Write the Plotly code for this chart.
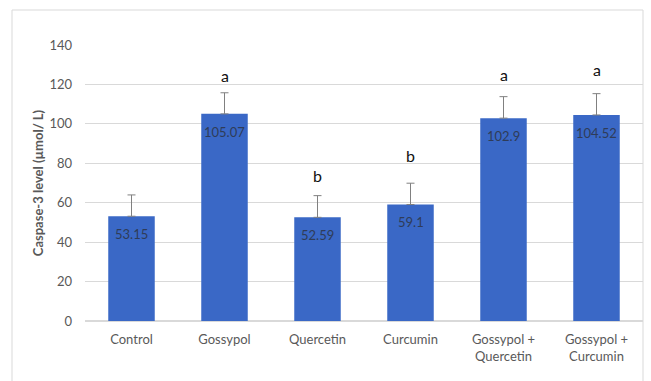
import plotly.graph_objects as go

# Caspase-3 levels per treatment group
groups = ["Control", "Gossypol", "Quercetin", "Curcumin",
          "Gossypol +<br>Quercetin", "Gossypol +<br>Curcumin"]
caspase3 = [53.15, 105.07, 52.59, 59.1, 102.9, 104.52]
sd = [10.8, 10.7, 11.0, 10.8, 10.9, 10.8]
letters = ["", "a", "b", "b", "a", "a"]

# vertical offset (px) of each significance letter above its error bar
letter_shift = [0, 17, 20, 28, 22, 24]

FONT = "Lato, 'Open Sans', sans-serif"

fig = go.Figure()
fig.add_trace(go.Bar(
    x=groups,
    y=caspase3,
    width=0.5,
    marker=dict(color="#3a68c6", line=dict(width=0)),
    error_y=dict(type="data", array=sd, arrayminus=[0] * len(sd),
                 symmetric=False, color="#808080", thickness=1, width=4),
    cliponaxis=False,
))

# value labels just inside the top of each bar
for g, v in zip(groups, caspase3):
    fig.add_annotation(x=g, y=v, text=str(v), showarrow=False,
                       yshift=-18, yanchor="middle",
                       font=dict(family=FONT, size=13, color="#2f3c58"))

# significance letters above the error bars
for g, v, e, lab, s in zip(groups, caspase3, sd, letters, letter_shift):
    if lab:
        fig.add_annotation(x=g, y=v + e, text=lab, showarrow=False,
                           yshift=s, yanchor="middle",
                           font=dict(family=FONT, size=16, color="#111111"))

# chart frame
fig.add_shape(type="rect", xref="paper", yref="paper",
              x0=-0.1308, x1=1.0, y0=-0.25, y1=1.1268,
              line=dict(color="#d9d9d9", width=1), fillcolor="rgba(0,0,0,0)",
              layer="below")

fig.update_layout(
    width=651, height=381,
    margin=dict(l=85, r=8, t=45, b=60),
    paper_bgcolor="white", plot_bgcolor="white",
    showlegend=False,
    bargap=0.5,
    font=dict(family=FONT, color="#595959", size=13),
    xaxis=dict(showgrid=False, showline=False, ticks="",
               ticklabelstandoff=9,
               tickfont=dict(size=13, color="#595959")),
    yaxis=dict(range=[0, 140], dtick=20, showgrid=True, gridcolor="#d9d9d9",
               gridwidth=1, zeroline=True, zerolinecolor="#d9d9d9",
               showline=False, ticks="", ticklabelstandoff=12,
               tickfont=dict(size=13, color="#595959"),
               title=dict(text="<b>Caspase-3 level (µmol/ L)</b>",
                          font=dict(size=13, color="#595959"), standoff=2)),
)

fig.write_html("out.html")
